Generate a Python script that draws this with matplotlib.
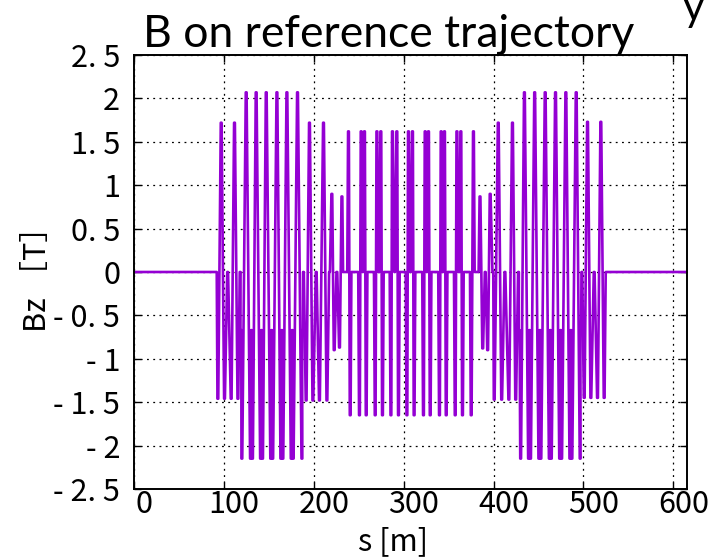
import matplotlib
matplotlib.use("Agg")
import matplotlib.pyplot as plt
from matplotlib.transforms import ScaledTranslation

# Bz extrema along the reference trajectory, s in metres, Bz in tesla.
# Consecutive points are joined by straight ramps.
entry1_s = [0.0, 91.6, 93.3, 97.0, 100.7, 104.2, 108.1, 111.8, 115.6, 118.1]
entry1_bz = [0, 0, -1.46, 1.72, -1.46, 0, -1.46, 1.72, -1.46, 0]

arc1_s = [118.9, 120.0, 124.8,
          129.6, 130.7, 131.8, 135.9,
          140.8, 141.9, 143.0, 147.1,
          152.1, 153.2, 154.3, 159.0,
          163.4, 164.5, 165.6, 170.1,
          174.9, 176.0, 177.1, 181.9,
          186.8, 187.5, 188.5]
arc1_bz = [-0.67, -2.15, 2.07,
           -2.15, -0.67, -2.15, 2.07,
           -2.15, -0.67, -2.15, 2.07,
           -2.15, -0.67, -2.15, 2.07,
           -2.15, -0.67, -2.15, 2.07,
           -2.15, -0.67, -2.15, 2.07,
           -2.15, -0.67, 0]

exit1_s = [191.5, 195.2, 199.0, 202.7, 206.3, 210.8, 214.6, 217.5,
           220.1, 222.7, 225.7, 228.6, 231.3, 233.0]
exit1_bz = [-1.48, 1.72, -1.48, 0, -1.48, 1.72, -1.48, 0,
            0.9, -0.9, 0, -0.87, 0.87, 0]

straight_s = [236.8, 238.6, 240.5, 242.3,
              249.0, 250.8, 252.7, 254.5, 256.4, 258.3, 260.1,
              266.5, 268.3, 270.2, 272.4, 274.6, 276.4, 278.2,
              284.0, 285.8, 287.5, 290.0, 292.4, 294.2, 296.0,
              301.8, 303.6, 305.3, 307.5, 309.8, 311.6, 313.4,
              320.2, 322.0, 323.9, 325.7, 327.6, 329.5, 331.3,
              338.0, 339.8, 341.7, 343.5, 345.4, 347.3, 349.1,
              355.5, 357.3, 359.2, 361.4, 363.6, 365.4, 367.2,
              373.3, 375.1, 377.6, 379.4]
straight_bz = [0, 1.62, -1.65, 0,
               0, -1.65, 1.62, 0, 1.62, -1.65, 0,
               0, -1.65, 1.62, 0, 1.62, -1.65, 0,
               0, -1.65, 1.62, 0, 1.62, -1.65, 0,
               0, -1.65, 1.62, 0, 1.62, -1.65, 0,
               0, -1.65, 1.62, 0, 1.62, -1.65, 0,
               0, -1.65, 1.62, 0, 1.62, -1.65, 0,
               0, -1.65, 1.62, 0, 1.62, -1.65, 0,
               0, -1.65, 1.62, 0]

entry2_s = [382.9, 384.9, 387.9, 390.7, 393.4, 396.2, 399.2,
            400.7, 405.2, 409.0, 412.6, 417.0, 421.0, 424.6, 427.7]
entry2_bz = [0, 0.87, -0.88, 0, -0.9, 0.9, 0,
             -1.47, 1.72, -1.47, 0, -1.47, 1.72, -1.47, 0]

arc2_s = [428.5, 430.1, 434.3,
          438.9, 440.0, 441.1, 445.7,
          450.4, 451.5, 452.6, 457.4,
          462.0, 463.1, 464.2, 468.9,
          473.5, 474.6, 475.7, 480.4,
          484.9, 486.0, 487.1, 491.9,
          496.3, 497.0, 498.2]
arc2_bz = arc1_bz

exit2_s = [500.8, 504.5, 508.2, 511.9, 515.6, 519.3, 523.0, 525.2, 615.7]
exit2_bz = [-1.45, 1.73, -1.45, 0, -1.45, 1.73, -1.45, 0, 0]

x_ticks = [0, 100, 200, 300, 400, 500, 600]
x_labels = ["0", "100", "200", "300", "400", "500", "600"]
y_ticks = [2.5, 2, 1.5, 1, 0.5, 0, -0.5, -1, -1.5, -2, -2.5]
y_labels = ["2. 5", "2", "1. 5", "1", "0. 5", "0",
            "- 0. 5", "- 1", "- 1. 5", "- 2", "- 2. 5"]

s_pts = entry1_s + arc1_s + exit1_s + straight_s + entry2_s + arc2_s + exit2_s
bz_pts = entry1_bz + arc1_bz + exit1_bz + straight_bz + entry2_bz + arc2_bz + exit2_bz

# each extremum gets a short flat top so peaks are not needle sharp
plateau = 0.9
s_line, bz_line = [], []
for s, b in zip(s_pts, bz_pts):
    s_line += [s - plateau / 2, s + plateau / 2]
    bz_line += [b, b]

tick_font = ["Noto Sans CJK JP", "DejaVu Sans"]

fig = plt.figure(figsize=(7.10, 5.58), dpi=100)
ax = fig.add_axes([0.1887, 0.1237, 0.7796, 0.7777])

ax.plot(s_line, bz_line, color="#9400d3", lw=1.9, solid_joinstyle="round")

ax.set_xlim(0, 615.7)
ax.set_ylim(-2.5, 2.5)
ax.set_xticks(x_ticks)
ax.set_xticklabels(x_labels, family=tick_font, fontsize=22)
ax.set_yticks(y_ticks)
ax.set_yticklabels(y_labels, family=tick_font, fontsize=22)
ax.tick_params(direction="in", length=5, width=1, top=True, right=True,
               colors="black")
ax.tick_params(axis="x", pad=0)
ax.tick_params(axis="y", pad=10)
for lab in ax.get_xticklabels():
    lab.set_transform(lab.get_transform() +
                      ScaledTranslation(10 / 100, 0, fig.dpi_scale_trans))

ax.grid(True, color="black", linestyle=(0, (1.5, 3.5)), linewidth=0.9)
for sp in ax.spines.values():
    sp.set_linewidth(1.4)

ax.set_xlabel("s [m]", family=tick_font, fontsize=22)
ax.xaxis.set_label_coords(0.468, -0.085)
ax.set_ylabel("Bz ［T］", family=tick_font, fontsize=22, labelpad=0)

fig.text(0.548, 0.915, "B on reference trajectory", family=["Lato", "DejaVu Sans"],
         fontsize=32, ha="center", va="baseline")
fig.text(0.962, 0.962, "y", family=["Lato", "DejaVu Sans"], fontsize=30,
         ha="left", va="baseline")

fig.savefig("out.png", dpi=100)
